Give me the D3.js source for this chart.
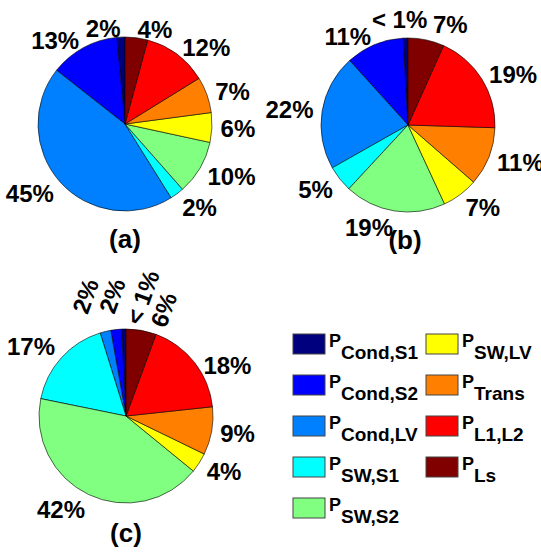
<!DOCTYPE html>
<html>
<head>
<meta charset="utf-8">
<script src="https://cdn.jsdelivr.net/npm/d3@7"></script>
<style>
  body { margin: 0; background: #fff; }
  text { font-family: "Liberation Sans", Arial, Helvetica, sans-serif; font-weight: bold; fill: #000; }
</style>
</head>
<body>
<svg id="chart" width="541" height="552"></svg>
<script>
// legend order (pie is drawn counter-clockwise from 12 o'clock in this order)
var seriesNames = ['Cond,S1', 'Cond,S2', 'Cond,LV', 'SW,S1', 'SW,S2', 'SW,LV', 'Trans', 'L1,L2', 'Ls'];
var seriesColors = ['#00007f', '#0000ff', '#0080ff', '#00ffff', '#80ff80', '#ffff00', '#ff8000', '#ff0000', '#800000'];

var valuesA = [1.5, 12.9, 44.5, 2.6, 10.1, 5.5, 6.7, 12.0, 4.2];
var labelsA = ['2%', '13%', '45%', '2%', '10%', '6%', '7%', '12%', '4%'];
var valuesB = [0.9, 10.8, 21.5, 4.9, 18.8, 6.7, 10.9, 18.8, 6.7];
var labelsB = ['< 1%', '11%', '22%', '5%', '19%', '7%', '11%', '19%', '7%'];
var valuesC = [0.8, 2.0, 2.0, 17.0, 42.3, 3.7, 8.9, 17.7, 5.6];
var labelsC = ['< 1%', '2%', '2%', '17%', '42%', '4%', '9%', '18%', '6%'];
var panelNames = ['(a)', '(b)', '(c)'];

var svg = d3.select('#chart');
var r = 87;

var panels = [
  {values: valuesA, labels: labelsA, cx: 125, cy: 124},
  {values: valuesB, labels: labelsB, cx: 408, cy: 125},
  {values: valuesC, labels: labelsC, cx: 126, cy: 416}
];

// hand-moved labels (the author nudged crowded ones apart)
var tweaks = {
  1: {0: {dx: 22, dy: -10}, 8: {dx: 5, dy: -7}},
  2: {
    0: {rot: -70, dx: 19, dy: -23},
    1: {rot: -70, dx: -3, dy: -25},
    2: {rot: -70, dx: -18, dy: -27},
    3: {dx: 0, dy: -5},
    7: {dx: 2, dy: 8},
    8: {rot: -70, dx: 21, dy: -12}
  }
};

var pie = d3.pie().sort(null).startAngle(0).endAngle(-2 * Math.PI);
var arc = d3.arc().innerRadius(0).outerRadius(r);

panels.forEach(function(p, pi){
  var g = svg.append('g').attr('transform', 'translate(' + p.cx + ',' + p.cy + ')');
  var arcs = pie(p.values);

  g.selectAll('path')
    .data(arcs)
    .enter()
    .append('path')
    .attr('d', arc)
    .attr('fill', function(d, i){ return seriesColors[i]; })
    .attr('stroke', '#000')
    .attr('stroke-width', 0.6);

  arcs.forEach(function(d, i){
    var a = (d.startAngle + d.endAngle) / 2;
    var sx = Math.sin(a), cy = -Math.cos(a);
    var x = 1.1 * r * sx, y = 1.1 * r * cy;
    var tw = (tweaks[pi] || {})[i];
    var t = g.append('text')
      .style('font-size', '24px')
      .attr('dominant-baseline', 'central')
      .text(p.labels[i]);
    if (tw && tw.rot) {
      t.attr('text-anchor', 'middle')
        .attr('transform', 'translate(' + (x + tw.dx) + ',' + (y + tw.dy) + ') rotate(' + tw.rot + ')');
      return;
    }
    if (cy > 0) y += 8 * cy;
    if (tw) { x += tw.dx; y += tw.dy; }
    t.attr('text-anchor', sx < 0 ? 'end' : 'start')
      .attr('x', x)
      .attr('y', y);
  });

  g.append('text')
    .style('font-size', '26px')
    .attr('text-anchor', 'middle')
    .attr('dominant-baseline', 'central')
    .attr('x', pi == 1 ? -3 : 0)
    .attr('y', pi == 2 ? 117 : 115)
    .text(panelNames[pi]);
});

// legend, two columns
var legend = svg.append('g');
seriesNames.forEach(function(name, i){
  var col = i < 5 ? 0 : 1;
  var row = i < 5 ? i : i - 5;
  var lx = col ? 426 : 293;
  var ly = 334 + row * 41;
  var item = legend.append('g').attr('transform', 'translate(' + lx + ',' + ly + ')');
  item.append('rect')
    .attr('width', 32)
    .attr('height', 20)
    .attr('fill', seriesColors[i])
    .attr('stroke', '#444')
    .attr('stroke-width', 1);
  var t = item.append('text')
    .attr('x', 36)
    .attr('y', 13);
  t.append('tspan')
    .style('font-size', '18px')
    .text('P');
  t.append('tspan')
    .style('font-size', '19px')
    .attr('dy', 12)
    .text(name);
});
</script>
</body>
</html>
